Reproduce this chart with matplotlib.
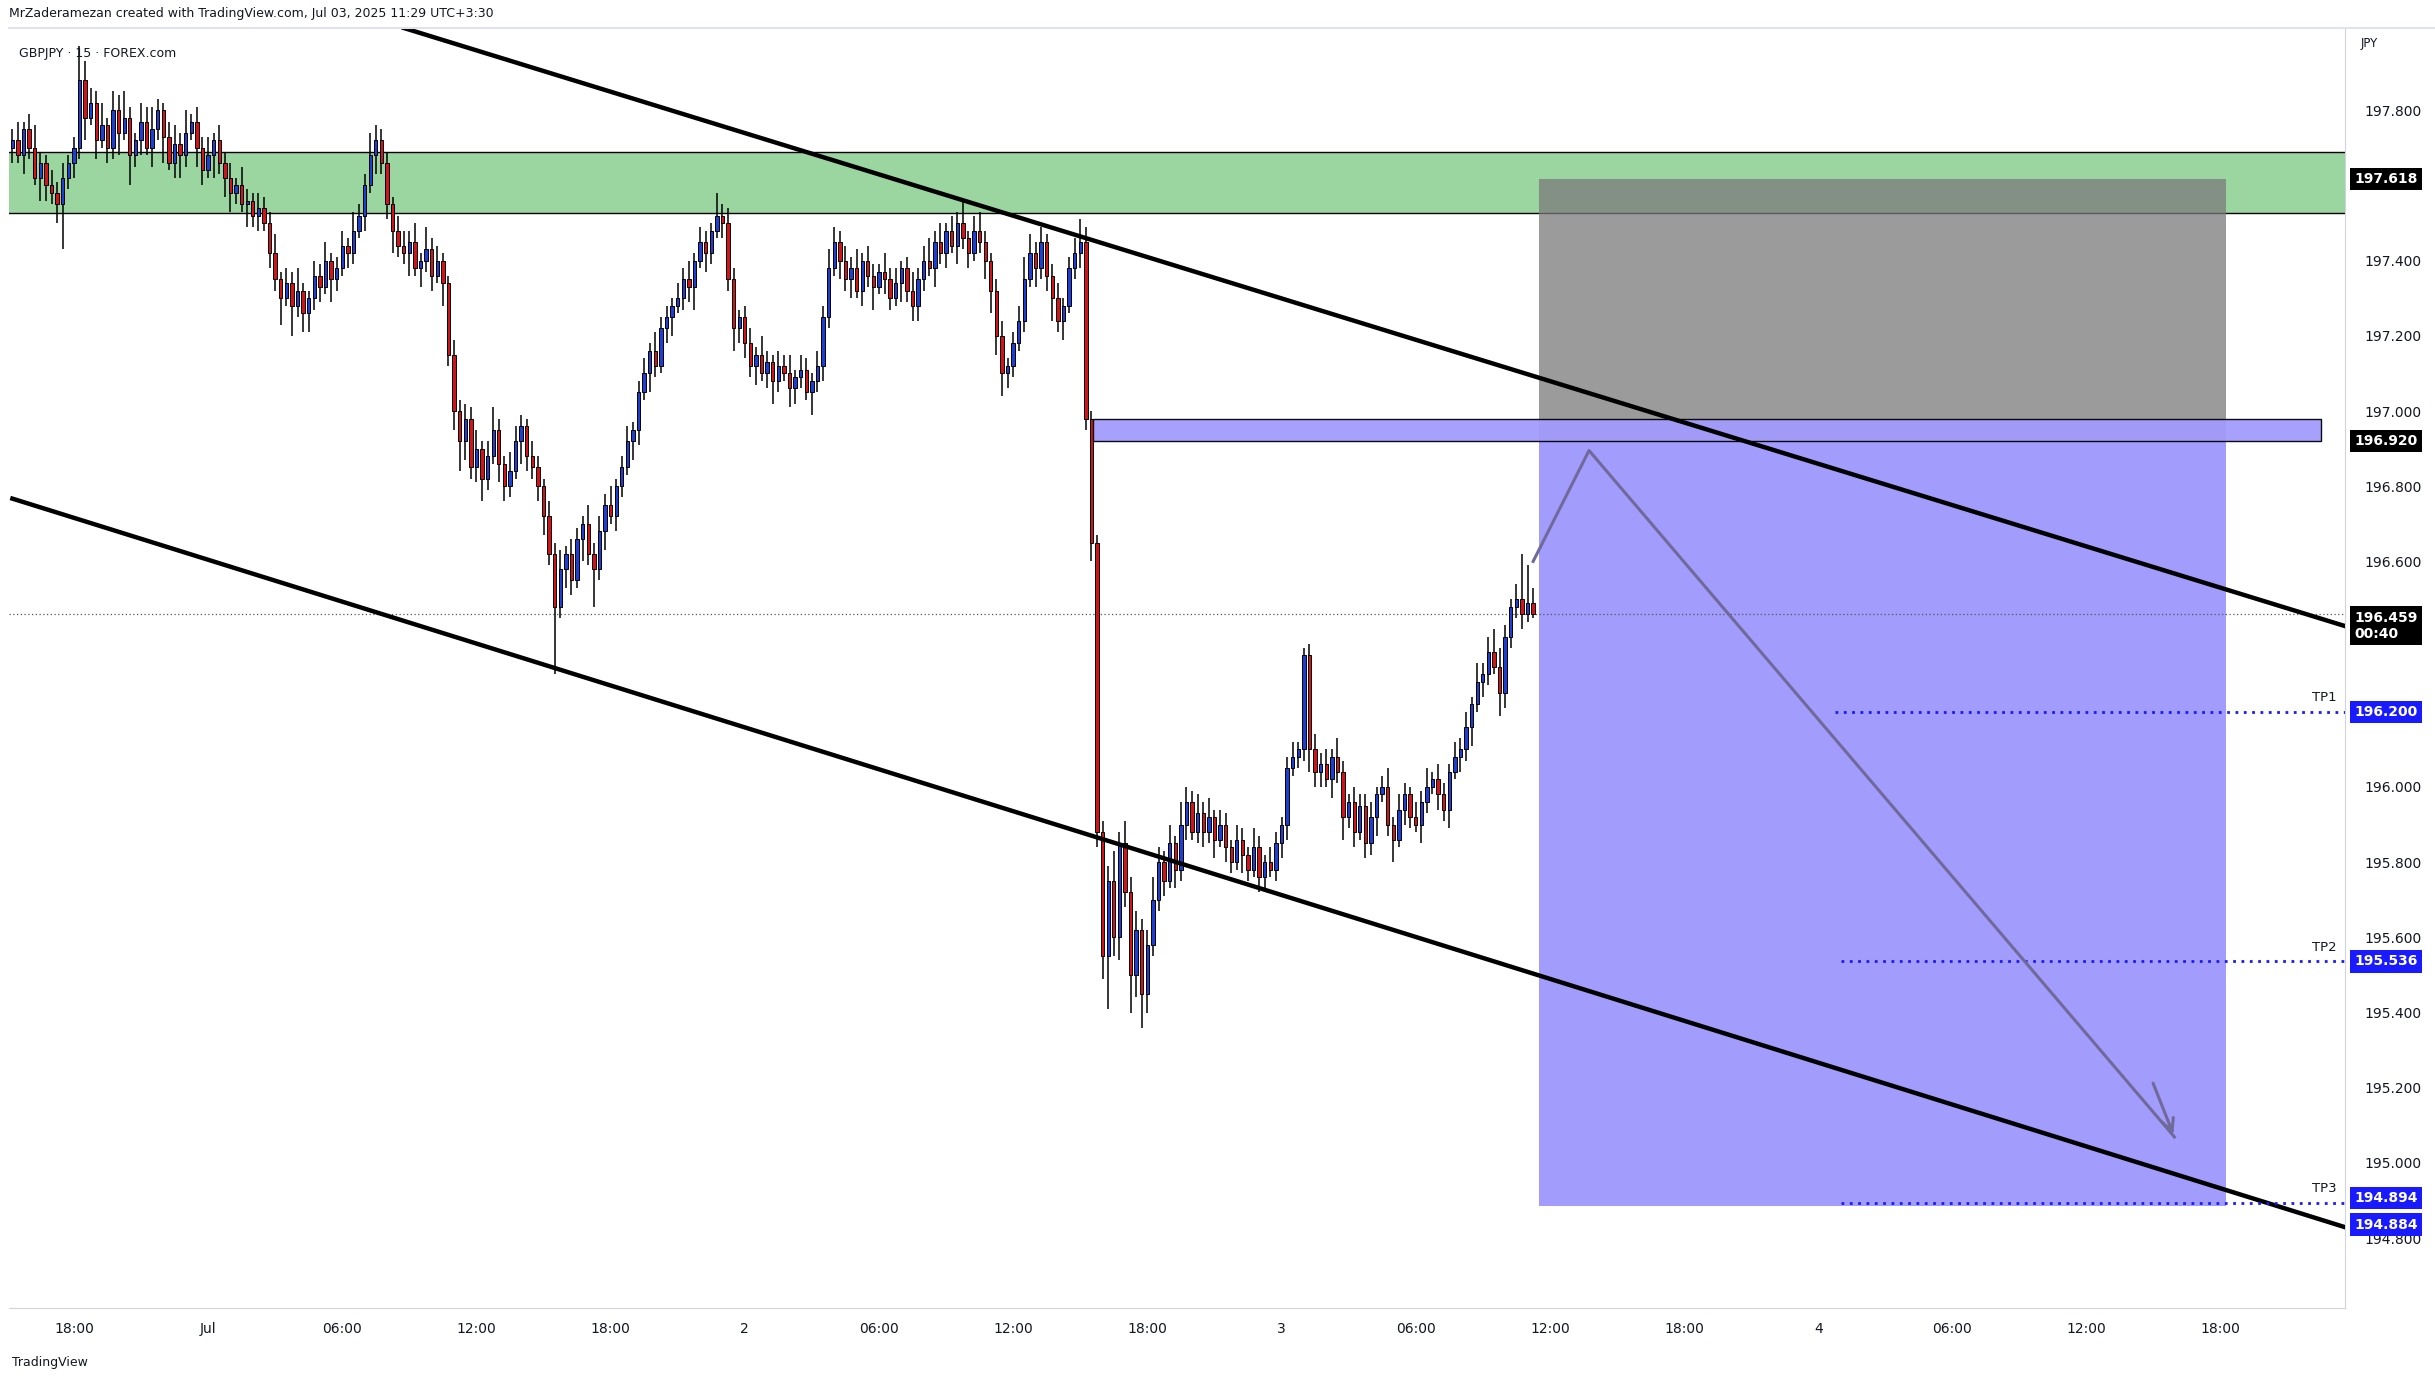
import matplotlib
matplotlib.use("Agg")
import matplotlib.pyplot as plt
import matplotlib.transforms as mtransforms
from matplotlib.patches import Rectangle
import numpy as np

# ---------------- data ----------------
closes = [
 197.72,197.68,197.75,197.70,197.62,197.66,197.60,197.58,197.55,
 197.62,197.66,197.70,
 197.88,197.78,197.82,
 197.72,197.76,197.70,197.80,197.74,197.78,197.68,197.72,197.77,197.70,197.75,197.80,197.73,197.66,197.71,197.68,197.74,197.77,197.70,197.64,197.68,197.72,197.66,197.62,
 197.58,197.60,197.55,197.56,197.52,197.54,197.50,
 197.42,197.35,197.30,197.34,197.28,197.32,197.26,
 197.30,197.36,197.33,197.40,197.35,197.38,197.44,197.42,197.48,197.52,
 197.60,197.68,197.72,197.66,
 197.55,197.48,197.44,
 197.42,197.45,197.38,197.40,197.43,197.36,197.40,197.34,
 197.15,197.00,196.92,
 196.98,196.85,196.90,196.82,196.88,196.95,196.86,196.80,196.84,196.92,196.96,196.88,196.85,
 196.80,196.72,196.62,
 196.48,196.58,196.62,196.55,196.66,196.70,196.62,196.58,
 196.68,196.75,196.72,196.80,196.85,196.92,196.95,
 197.05,197.10,197.16,197.12,197.22,
 197.25,197.28,197.30,197.35,197.33,197.40,197.45,197.42,197.48,197.52,197.50,
 197.35,197.22,197.25,
 197.18,197.12,197.15,197.10,197.13,197.08,197.12,197.10,197.06,197.09,197.11,197.05,197.08,197.12,
 197.25,197.38,197.45,197.40,
 197.35,197.38,197.32,197.40,197.36,197.33,197.37,197.35,197.30,197.34,197.38,197.32,197.28,
 197.35,197.40,197.38,197.45,197.42,197.48,197.44,197.50,197.46,197.42,197.48,197.45,197.40,197.32,
 197.20,197.10,197.12,197.18,197.24,
 197.35,197.42,197.38,197.45,197.36,197.30,197.24,197.28,197.38,197.42,197.45,
 196.98,196.65,
 195.88,195.55,
 195.75,195.60,195.85,195.72,195.50,195.62,195.45,195.58,195.70,
 195.80,195.75,195.85,195.78,195.90,195.96,195.88,195.93,
 195.88,195.92,195.86,195.90,195.84,195.80,195.86,195.82,195.78,195.84,195.76,195.80,195.78,195.85,195.90,
 196.05,196.08,196.10,
 196.35,196.10,196.04,
 196.06,196.02,196.08,196.04,195.92,195.96,195.88,195.95,
 195.85,195.92,195.98,196.00,195.90,195.86,195.94,195.98,195.92,195.90,195.96,196.00,196.02,195.98,195.94,196.04,196.08,
 196.10,196.16,196.22,196.28,196.30,196.36,196.32,196.25,196.40,196.48,
 196.50,196.46,196.49,196.459,
]
first_open = 197.70

wick_up = [
 3,5,2,4,6,3,2,4,3, 4,2,3, 9,5,4,
 3,6,2,5,4,7,3,2,5,4,6,3,2,4,5,3,6,2,4,3,5,2,4,3,
 4,2,5,3,2,4,3, 3,5,2,4,3,6,2, 2,4,3,5,2,3,4,2,5,3, 3,6,4,3, 3,2,4,
 4,3,5,2,6,3,4,2, 2,4,3, 4,3,5,2,4,6,3,2,5,4,3,2,4, 3,2,4,
 3,5,2,4,3,2,5,3, 4,3,5,2,3,4,2, 3,4,2,5,3, 3,2,4,3,5,2,4,3,2,6,3, 4,3,2,
 3,4,2,5,3,2,4,3,5,2,4,3,2,4, 3,5,4,3, 4,3,5,2,4,3,2,5,3,4,2,3,5,
 3,4,6,3,5,2,4,3,6,2,4,5,3,2, 3,4,2,3,4, 6,5,3,4,2,3,4,2,3,4,6, 4,2, 2,3,
 4,8,3,6,4,5,3,4,6, 4,3,5,2,6,4,3,5, 3,5,2,4,3,2,4,3,2,5,3,2,4,3,2,
 3,4,2, 2,3,4, 3,4,2,5,3,2,4,3, 3,4,2,3,5,2,4,3,2,4,3,5,2,4,3,2,4,
 3,4,2,5,3,4,6,5,3,2, 4,12,10,4,
]
wick_dn = [
 4,2,5,3,2,6,4,3,5, 12,3,4, 3,6,2,
 5,2,4,3,6,2,8,3,4,2,5,3,7,2,4,6,3,2,5,4,2,6,3,5,
 5,3,2,6,3,4,2, 4,3,7,2,8,3,5, 5,3,4,2,6,3,2,4,3,2, 4,2,5,3, 4,6,3,
 3,6,2,5,3,4,2,6, 3,5,8, 5,3,4,6,3,2,5,4,3,2,6,4,3, 4,5,3,
 18,3,5,4,2,6,3,10, 3,5,2,4,3,2,5, 4,2,5,3,2, 4,5,2,3,4,6,2,5,3,2,4, 3,6,4,
 4,3,5,2,4,6,3,2,5,4,3,2,6,3, 4,3,2,5, 3,5,2,4,3,6,2,4,3,2,5,3,4,
 4,3,2,5,3,4,2,5,3,4,2,3,5,6, 5,6,4,3,2, 3,2,5,3,4,6,3,5,2,3,4, 3,5, 4,6,
 14,5,6,4,10,6,9,5,3, 3,4,2,5,3,4,2,3, 4,3,5,2,4,3,2,5,3,2,4,3,2,3,4,
 4,2,3, 3,6,4, 4,2,5,3,6,3,4,2, 4,3,5,2,3,6,2,4,3,2,5,3,2,4,3,5,2,
 4,3,5,2,4,3,2,6,4,3, 3,4,2,1,
]

x_tick_labels = ["18:00","Jul","06:00","12:00","18:00","2","06:00","12:00","18:00",
                 "3","06:00","12:00","18:00","4","06:00","12:00","18:00"]
y_ticks = [194.8,195.0,195.2,195.4,195.6,195.8,196.0,196.6,196.8,197.0,197.2,197.4,197.8]

green_zone = (197.527, 197.690)
entry_zone = (196.920, 196.978)
stop_price = 197.618
entry_price = 196.920
target_price = 194.884
current_price = 196.459
tp_levels = [("TP1", 196.200), ("TP2", 195.536), ("TP3", 194.894)]
upper_trend = ([70.0, 417.2], [198.019, 196.428])
lower_trend = ([0.0, 417.2], [196.767, 194.829])
path_x = [272, 282, 386.7]
path_y = [196.60, 196.895, 195.069]

# ---------------- figure ----------------
W, H = 2435, 1381
fig = plt.figure(figsize=(W/100, H/100), dpi=100)
fig.patch.set_facecolor("white")
ax = fig.add_axes([6/1568, 1-842/889, (1510-6)/1568, (842-18)/889])
ax.set_facecolor("white")

n = len(closes)
opens = [first_open] + closes[:-1]
UP, DN = "#1c3fd6", "#d4121a"
bw = 0.6
for i in range(n):
    o, c = opens[i], closes[i]
    hi = max(o, c) + wick_up[i] / 100
    lo = min(o, c) - wick_dn[i] / 100
    ax.plot([i, i], [lo, hi], color="black", lw=1.1, zorder=3, solid_capstyle="butt")
    col = UP if c >= o else DN
    h = max(abs(c - o), 0.006)
    ax.add_patch(Rectangle((i - bw/2, min(o, c)), bw, h, facecolor=col,
                           edgecolor="black", lw=0.7, zorder=4))

xmin, xmax = -0.55, 417.2
ymin, ymax = 194.614, 198.019
ax.set_xlim(xmin, xmax)
ax.set_ylim(ymin, ymax)

ax.axhspan(green_zone[0], green_zone[1], facecolor="#9bd5a0", edgecolor="none", zorder=1)
ax.axhline(green_zone[0], color="black", lw=1.0, zorder=2)
ax.axhline(green_zone[1], color="black", lw=1.0, zorder=2)

ax.add_patch(Rectangle((273, entry_price), 396-273, stop_price-entry_price,
                       facecolor="#7a7a7a", alpha=0.75, edgecolor="none", zorder=2))
ax.add_patch(Rectangle((273, target_price), 396-273, entry_price-target_price,
                       facecolor="#a29cfd", edgecolor="none", zorder=2))

ax.add_patch(Rectangle((193.3, entry_zone[0]), 413-193.3, entry_zone[1]-entry_zone[0],
                       facecolor="#a29cfd", edgecolor="black", lw=1.0, alpha=0.95, zorder=5))

ax.plot(*upper_trend, color="black", lw=3.2, zorder=6)
ax.plot(*lower_trend, color="black", lw=3.2, zorder=6)

ax.axhline(current_price, color="#555555", lw=0.9, ls=(0, (1, 2)), zorder=2)

ax.plot(path_x, path_y, color="#6f6a9a", lw=2.2, zorder=7)
ax.annotate("", xy=(path_x[2], path_y[2]), xytext=(path_x[2]-4, path_y[2]+0.15),
            arrowprops=dict(arrowstyle="->", color="#6f6a9a", lw=2.2, mutation_scale=22), zorder=7)

tp_start = [326, 327, 327]
for (name, lvl), xs0 in zip(tp_levels, tp_start):
    ax.plot([xs0, xmax], [lvl, lvl], color="#1a1aff", lw=2.0, ls=(0, (1, 2)), zorder=6)
    ax.text(xmax - 1.5, lvl + 0.02, name, ha="right", va="bottom", fontsize=9.5, color="#131722", zorder=8)

for s in ["top", "left"]:
    ax.spines[s].set_visible(False)
ax.spines["right"].set_color("#d1d4dc")
ax.spines["bottom"].set_color("#d1d4dc")
ax.yaxis.tick_right()
ax.set_yticks(y_ticks)
ax.set_yticklabels([f"{v:.3f}" for v in y_ticks], fontsize=10, color="#131722")
ax.tick_params(axis="y", length=0, pad=14)
ax.set_xticks([11 + 24*k for k in range(len(x_tick_labels))])
ax.set_xticklabels(x_tick_labels, fontsize=10, color="#131722")
ax.tick_params(axis="x", length=0, pad=10)

fig.add_artist(plt.Line2D([6/1568, 1], [1-18/889]*2, color="#e0e3eb", lw=1.5))

trans = mtransforms.blended_transform_factory(ax.transAxes, ax.transData)
def plabel(v, bg, txt=None, dy=0.0):
    ax.text(1.004, v + dy, txt or f"{v:.3f}", transform=trans, ha="left", va="center",
            fontsize=10, color="white", fontweight="bold", zorder=10, clip_on=False,
            bbox=dict(boxstyle="square,pad=0.3", facecolor=bg, edgecolor="none"))
plabel(stop_price, "#000000")
plabel(entry_price, "#000000")
plabel(current_price, "#000000", txt=f"{current_price:.3f}\n00:40", dy=-0.03)
plabel(196.200, "#1a1aff")
plabel(195.536, "#1a1aff")
plabel(194.894, "#1a1aff", dy=0.012)
plabel(194.884, "#1a1aff", dy=-0.048)

fig.text(6/1568, 1-9/889, "MrZaderamezan created with TradingView.com, Jul 03, 2025 11:29 UTC+3:30",
         fontsize=9, color="#131722", va="center", ha="left")
ax.text(0.004, 0.985, "GBPJPY · 15 · FOREX.com", transform=ax.transAxes, fontsize=9,
        color="#131722", va="top", ha="left")
fig.text(1520/1568, 1-28/889, "JPY", fontsize=8.5, color="#131722", va="center", ha="left")
fig.text(8/1568, 1-877/889, "TradingView", fontsize=9, color="#131722", va="center", ha="left")

fig.savefig("out.png", dpi=100)
